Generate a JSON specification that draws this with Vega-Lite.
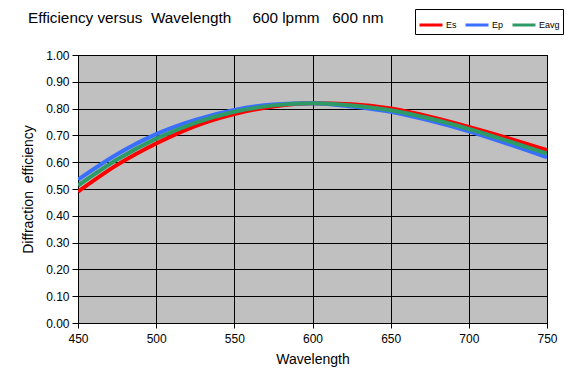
{
  "$schema": "https://vega.github.io/schema/vega-lite/v6.json",
  "autosize": "none",
  "width": 469,
  "height": 268,
  "padding": {"left": 78, "top": 55, "right": 22, "bottom": 53},
  "background": "white",
  "config": {
    "font": "Liberation Sans",
    "view": {"fill": "#C0C0C0", "stroke": "black", "strokeWidth": 1}
  },
  "title": {
    "text": "Efficiency versus\u00a0 Wavelength\u00a0\u00a0\u00a0\u00a0 600 lpmm\u00a0\u00a0 600 nm",
    "anchor": "start",
    "frame": "group",
    "dx": -50,
    "dy": 34,
    "offset": 16,
    "fontSize": 15.3,
    "fontWeight": "normal",
    "color": "black",
    "font": "Liberation Sans"
  },
  "data": {
    "values": [
      {"wl": 450, "series": "Es", "eff": 0.49},
      {"wl": 475, "series": "Es", "eff": 0.59},
      {"wl": 500, "series": "Es", "eff": 0.67},
      {"wl": 525, "series": "Es", "eff": 0.735},
      {"wl": 550, "series": "Es", "eff": 0.78},
      {"wl": 575, "series": "Es", "eff": 0.808},
      {"wl": 600, "series": "Es", "eff": 0.82},
      {"wl": 625, "series": "Es", "eff": 0.816},
      {"wl": 650, "series": "Es", "eff": 0.80},
      {"wl": 675, "series": "Es", "eff": 0.77},
      {"wl": 700, "series": "Es", "eff": 0.732},
      {"wl": 725, "series": "Es", "eff": 0.69},
      {"wl": 750, "series": "Es", "eff": 0.645},
      {"wl": 450, "series": "Ep", "eff": 0.535},
      {"wl": 475, "series": "Ep", "eff": 0.63},
      {"wl": 500, "series": "Ep", "eff": 0.705},
      {"wl": 525, "series": "Ep", "eff": 0.758},
      {"wl": 550, "series": "Ep", "eff": 0.795},
      {"wl": 575, "series": "Ep", "eff": 0.815},
      {"wl": 600, "series": "Ep", "eff": 0.82},
      {"wl": 625, "series": "Ep", "eff": 0.808},
      {"wl": 650, "series": "Ep", "eff": 0.788},
      {"wl": 675, "series": "Ep", "eff": 0.755},
      {"wl": 700, "series": "Ep", "eff": 0.715},
      {"wl": 725, "series": "Ep", "eff": 0.668},
      {"wl": 750, "series": "Ep", "eff": 0.618},
      {"wl": 450, "series": "Eavg", "eff": 0.513},
      {"wl": 475, "series": "Eavg", "eff": 0.61},
      {"wl": 500, "series": "Eavg", "eff": 0.688},
      {"wl": 525, "series": "Eavg", "eff": 0.747},
      {"wl": 550, "series": "Eavg", "eff": 0.788},
      {"wl": 575, "series": "Eavg", "eff": 0.812},
      {"wl": 600, "series": "Eavg", "eff": 0.82},
      {"wl": 625, "series": "Eavg", "eff": 0.812},
      {"wl": 650, "series": "Eavg", "eff": 0.794},
      {"wl": 675, "series": "Eavg", "eff": 0.763},
      {"wl": 700, "series": "Eavg", "eff": 0.724},
      {"wl": 725, "series": "Eavg", "eff": 0.679},
      {"wl": 750, "series": "Eavg", "eff": 0.632}
    ]
  },
  "mark": {"type": "line", "strokeWidth": 4, "interpolate": "monotone", "clip": true},
  "encoding": {
    "x": {
      "field": "wl", "type": "quantitative",
      "scale": {"domain": [450, 750], "nice": false, "zero": false},
      "axis": {
        "title": "Wavelength", "values": [450, 500, 550, 600, 650, 700, 750],
        "labelFlush": false,
        "grid": true, "gridColor": "black", "gridOpacity": 1, "gridWidth": 1,
        "domainColor": "black", "tickColor": "black", "tickSize": 5,
        "labelFontSize": 12, "labelColor": "black", "labelPadding": 5,
        "titleFontSize": 14, "titleFontWeight": "normal", "titleColor": "black", "titlePadding": 8
      }
    },
    "y": {
      "field": "eff", "type": "quantitative",
      "scale": {"domain": [0, 1], "nice": false},
      "axis": {
        "title": "Diffraction\u00a0 efficiency", "values": [0, 0.1, 0.2, 0.3, 0.4, 0.5, 0.6, 0.7, 0.8, 0.9, 1.0],
        "format": ".2f", "labelFlush": false,
        "grid": true, "gridColor": "black", "gridOpacity": 1, "gridWidth": 1,
        "domainColor": "black", "tickColor": "black", "tickSize": 6,
        "labelFontSize": 12, "labelColor": "black", "labelPadding": 3,
        "titleFontSize": 14, "titleFontWeight": "normal", "titleColor": "black", "titlePadding": 10
      }
    },
    "color": {
      "field": "series", "type": "nominal",
      "scale": {"domain": ["Es", "Ep", "Eavg"], "range": ["#FF0000", "#3A6EFF", "#2E9A66"]},
      "legend": {
        "title": null, "orient": "none", "direction": "horizontal",
        "legendX": 337, "legendY": -46, "gridAlign": "each",
        "symbolType": "stroke", "symbolSize": 529, "symbolStrokeWidth": 3,
        "labelFontSize": 9, "labelColor": "black", "labelOffset": 2, "columnPadding": 2,
        "strokeColor": "black", "fillColor": "white", "padding": 3
      }
    },
    "order": {"field": "series", "sort": "descending"}
  }
}
